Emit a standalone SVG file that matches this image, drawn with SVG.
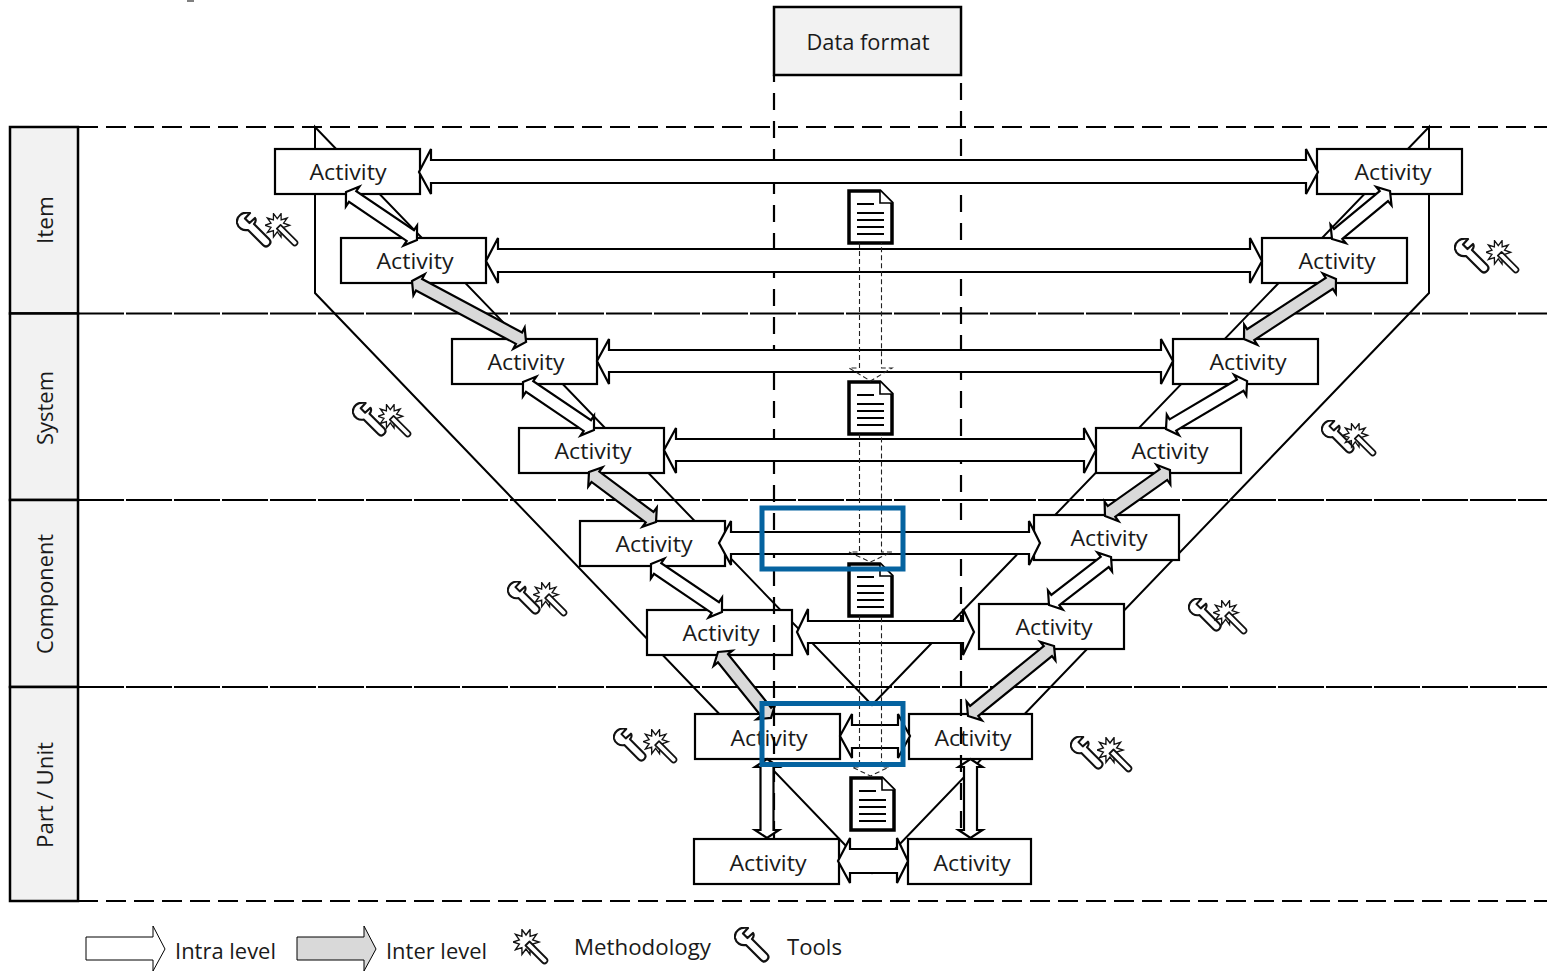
<svg xmlns="http://www.w3.org/2000/svg" width="1547" height="973" viewBox="0 0 1547 973">
<defs>
<style>
text{font-family:"Open Sans","Liberation Sans",sans-serif;font-size:21px;fill:#1a1a1a;text-anchor:middle}
.box{fill:#fff;stroke:#000;stroke-width:2.2}
.lane{fill:#f2f2f2;stroke:#000;stroke-width:2.5}
.lineh{stroke:#000;stroke-width:2.2;fill:none}
.dash1{stroke-dasharray:20 8}
.dash2{stroke-dasharray:46 2}
.dashv{stroke:#000;stroke-width:2.2;fill:none;stroke-dasharray:17 11}
.v{stroke:#000;stroke-width:2;fill:none}
.a{fill:#fff;stroke:#000;stroke-width:2.2;stroke-linejoin:miter}
.g{fill:#d9d9d9;stroke:#000;stroke-width:2.2;stroke-linejoin:miter}
.doc{fill:#fff;stroke:#000;stroke-width:3.5}
.docl{stroke:#000;stroke-width:1.8;fill:none}
.flow{stroke:#222;stroke-width:1.1;fill:none;stroke-dasharray:5 3}
.blue{fill:none;stroke:#0563a0;stroke-width:5}
.ic{fill:#fff;stroke:#111;stroke-width:2.2;stroke-linejoin:round}
.st{fill:#fff;stroke:#111;stroke-width:1.4;stroke-linejoin:miter}
</style>
<symbol id="wrench" viewBox="0 0 36 36"><path class="ic" d="M14 1C6 -1 0 5 1 11C2 16 7 19 12 18L27 33Q30 36 33 33Q36 30 33 27L18 12C20 10 20 7 19 6L13.500 11L9 6.500Z"/></symbol>
<symbol id="wand" viewBox="0 0 36 36"><polygon class="st" points="26,13 19.660,15.160 23.520,20.640 17.110,18.660 17.020,25.360 13,20 8.980,25.360 8.890,18.660 2.480,20.640 6.340,15.160 0,13 6.340,10.840 2.480,5.360 8.890,7.340 8.980,0.640 13,6 17.020,0.640 17.110,7.340 23.520,5.360 19.660,10.840"/><path class="ic" style="stroke-width:1.8" d="M12.500 16.500L16.500 12.500L33.500 29.500Q35.500 31.500 33.500 33.500Q31.500 35.500 29.500 33.500Z"/></symbol>
<g id="docicon"><path class="doc" d="M0 0H31L43 12V52H0Z"/><path class="doc" style="stroke-width:1.600" d="M31 0V12H43"/><path class="docl" d="M8 13H25M8 22H35M8 29H35M8 36H35M8 43H35"/></g>
</defs>
<rect width="1547" height="973" fill="#fff"/>
<rect x="187" y="0" width="7" height="2" fill="#808080"/>

<g id="lanes">
<g id="lane-item"><rect class="lane" x="10" y="127" width="68" height="186.500"/><text transform="translate(53 220) rotate(-90)" textLength="48" lengthAdjust="spacingAndGlyphs">Item</text></g>
<g id="lane-system"><rect class="lane" x="10" y="313.500" width="68" height="186.500"/><text transform="translate(53 408) rotate(-90)" textLength="74" lengthAdjust="spacingAndGlyphs">System</text></g>
<g id="lane-component"><rect class="lane" x="10" y="500" width="68" height="187"/><text transform="translate(53 594) rotate(-90)" textLength="120" lengthAdjust="spacingAndGlyphs">Component</text></g>
<g id="lane-part"><rect class="lane" x="10" y="687" width="68" height="214"/><text transform="translate(53 795) rotate(-90)" textLength="106" lengthAdjust="spacingAndGlyphs">Part / Unit</text></g>
</g>
<g id="separators">
<path class="lineh dash1" d="M78 127H1547M78 901H1547"/>
<path class="lineh dash2" d="M78 313.500H1547M78 500H1547M78 687H1547"/>
</g>
<g id="vee">
<path class="v" d="M315 127V293L872 873L1429 293V127L872 705Z"/>
</g>
<g id="node-data-format"><rect class="lane" x="774" y="7" width="187" height="68"/><text x="868" y="50" textLength="123" lengthAdjust="spacingAndGlyphs">Data format</text></g>

<g id="activities">
<g id="a1"><rect class="box" x="275" y="149" width="145" height="45"/><text x="348" y="180" textLength="77" lengthAdjust="spacingAndGlyphs">Activity</text></g>
<g id="a2"><rect class="box" x="341" y="238" width="145" height="45"/><text x="415" y="269" textLength="77" lengthAdjust="spacingAndGlyphs">Activity</text></g>
<g id="a3"><rect class="box" x="452" y="339" width="145" height="45"/><text x="526" y="370" textLength="77" lengthAdjust="spacingAndGlyphs">Activity</text></g>
<g id="a4"><rect class="box" x="519" y="428" width="145" height="45"/><text x="593" y="459" textLength="77" lengthAdjust="spacingAndGlyphs">Activity</text></g>
<g id="a5"><rect class="box" x="580" y="521" width="145" height="45"/><text x="654" y="552" textLength="77" lengthAdjust="spacingAndGlyphs">Activity</text></g>
<g id="a6"><rect class="box" x="647" y="610" width="145" height="45"/><text x="721" y="641" textLength="77" lengthAdjust="spacingAndGlyphs">Activity</text></g>
<g id="a7"><rect class="box" x="695" y="714" width="145" height="45"/><text x="769" y="746" textLength="77" lengthAdjust="spacingAndGlyphs">Activity</text></g>
<g id="a8"><rect class="box" x="694" y="839" width="145" height="45"/><text x="768" y="871" textLength="77" lengthAdjust="spacingAndGlyphs">Activity</text></g>
<g id="b1"><rect class="box" x="1317" y="149" width="145" height="45"/><text x="1393" y="180" textLength="77" lengthAdjust="spacingAndGlyphs">Activity</text></g>
<g id="b2"><rect class="box" x="1262" y="238" width="145" height="45"/><text x="1337" y="269" textLength="77" lengthAdjust="spacingAndGlyphs">Activity</text></g>
<g id="b3"><rect class="box" x="1173" y="339" width="145" height="45"/><text x="1248" y="370" textLength="77" lengthAdjust="spacingAndGlyphs">Activity</text></g>
<g id="b4"><rect class="box" x="1096" y="428" width="145" height="45"/><text x="1170" y="459" textLength="77" lengthAdjust="spacingAndGlyphs">Activity</text></g>
<g id="b5"><rect class="box" x="1034" y="515" width="145" height="45"/><text x="1109" y="546" textLength="77" lengthAdjust="spacingAndGlyphs">Activity</text></g>
<g id="b6"><rect class="box" x="979" y="604" width="145" height="45"/><text x="1054" y="635" textLength="77" lengthAdjust="spacingAndGlyphs">Activity</text></g>
<g id="b7"><rect class="box" x="909" y="714" width="123" height="45"/><text x="973" y="746" textLength="77" lengthAdjust="spacingAndGlyphs">Activity</text></g>
<g id="b8"><rect class="box" x="908" y="839" width="123" height="45"/><text x="972" y="871" textLength="77" lengthAdjust="spacingAndGlyphs">Activity</text></g>
</g>

<path class="dashv" stroke-dashoffset="10" d="M774 75V838"/>
<path class="dashv" stroke-dashoffset="20" d="M961 75V838"/>

<g id="connectors">
<polygon class="a" points="419,172 431,149 431,160 1306,160 1306,149 1318,172 1306,194 1306,183 431,183 431,194"/>
<polygon class="a" points="486,261 498,238 498,249 1250,249 1250,238 1262,261 1250,283 1250,272 498,272 498,283"/>
<polygon class="a" points="597,361 609,339 609,350 1161,350 1161,339 1173,361 1161,384 1161,372 609,372 609,384"/>
<polygon class="a" points="664,450 676,428 676,439 1084,439 1084,428 1096,450 1084,473 1084,461 676,461 676,473"/>
<polygon class="a" points="719,543 731,521 731,532 1029,532 1029,521 1040,543 1029,565 1029,554 731,554 731,565"/>
<polygon class="a" points="797,632 808,609 808,621 963,621 963,609 974,632 963,655 963,643 808,643 808,655"/>
<polygon class="a" points="840,736 852,714 852,725 898,725 898,714 910,736 898,758 898,748 852,748 852,758"/>
<polygon class="a" points="838,861 850,838 850,849 897,849 897,838 908,861 897,883 897,873 850,873 850,883"/>
<polygon class="a" transform="translate(346 192) rotate(34.100)" points="0,0 8,-12 8,-6.500 77.700,-6.500 77.700,-12 85.700,0 77.700,12 77.700,6.500 8,6.500 8,12"/>
<polygon class="g" transform="translate(412 281) rotate(28.100)" points="0,0 8,-12 8,-6.500 121.300,-6.500 121.300,-12 129.300,0 121.300,12 121.300,6.500 8,6.500 8,12"/>
<polygon class="a" transform="translate(523 382) rotate(34.100)" points="0,0 8,-12 8,-6.500 77.700,-6.500 77.700,-12 85.700,0 77.700,12 77.700,6.500 8,6.500 8,12"/>
<polygon class="g" transform="translate(589 472) rotate(36.700)" points="0,0 8,-12 8,-6.500 75.600,-6.500 75.600,-12 83.600,0 75.600,12 75.600,6.500 8,6.500 8,12"/>
<polygon class="a" transform="translate(651 564) rotate(34.100)" points="0,0 8,-12 8,-6.500 77.700,-6.500 77.700,-12 85.700,0 77.700,12 77.700,6.500 8,6.500 8,12"/>
<polygon class="g" transform="translate(718 652) rotate(51.200)" points="0,0 8,-12 8,-6.500 76.600,-6.500 76.600,-12 84.600,0 76.600,12 76.600,6.500 8,6.500 8,12"/>
<polygon class="a" transform="translate(1332 239) rotate(-39.600)" points="0,0 8,-12 8,-6.500 67.300,-6.500 67.300,-12 75.300,0 67.300,12 67.300,6.500 8,6.500 8,12"/>
<polygon class="g" transform="translate(1244 339) rotate(-33.100)" points="0,0 8,-12 8,-6.500 101.800,-6.500 101.800,-12 109.800,0 101.800,12 101.800,6.500 8,6.500 8,12"/>
<polygon class="a" transform="translate(1166 429) rotate(-30.600)" points="0,0 8,-12 8,-6.500 86.200,-6.500 86.200,-12 94.200,0 86.200,12 86.200,6.500 8,6.500 8,12"/>
<polygon class="g" transform="translate(1105 516) rotate(-35.300)" points="0,0 8,-12 8,-6.500 71.600,-6.500 71.600,-12 79.600,0 71.600,12 71.600,6.500 8,6.500 8,12"/>
<polygon class="a" transform="translate(1049 605) rotate(-37.700)" points="0,0 8,-12 8,-6.500 70.400,-6.500 70.400,-12 78.400,0 70.400,12 70.400,6.500 8,6.500 8,12"/>
<polygon class="g" transform="translate(968 716) rotate(-39.100)" points="0,0 8,-12 8,-6.500 102.900,-6.500 102.900,-12 110.900,0 102.900,12 102.900,6.500 8,6.500 8,12"/>
<polygon class="a" points="767,759 779,767 773.500,767 773.500,830 779,830 767,838 755,830 760.500,830 760.500,767 755,767"/>
<polygon class="a" points="970.500,759 982.500,767 977,767 977,830 982.500,830 970.500,838 958.500,830 964,830 964,767 958.500,767"/>
</g>

<g id="documents">
<use href="#docicon" x="849" y="191"/>
<use href="#docicon" x="849" y="382"/>
<use href="#docicon" x="849" y="564"/>
<use href="#docicon" x="851" y="778"/>
</g>
<g id="doc-flows">
<path class="flow" d="M859.500 243V368H849L870.500 381L892 368H881.500V243"/>
<path class="flow" d="M859.500 434V552H849L870.500 562L892 552H881.500V434"/>
<path class="flow" d="M859.500 616V767H852L870.500 776L889 767H881.500V616"/>
</g>

<g id="icons">
<use href="#wrench" x="236" y="212" width="36" height="36"/><use href="#wand" x="265" y="213" width="34" height="34"/>
<use href="#wrench" x="352" y="402" width="35" height="35"/><use href="#wand" x="378" y="404" width="34" height="34"/>
<use href="#wrench" x="1454" y="238" width="36" height="36"/><use href="#wand" x="1486" y="240" width="34" height="34"/>
<use href="#wrench" x="1321" y="420" width="34" height="34"/><use href="#wand" x="1343" y="423" width="34" height="34"/>
<use href="#wrench" x="507" y="581" width="34" height="34"/><use href="#wand" x="533" y="582" width="35" height="35"/>
<use href="#wrench" x="1188" y="598" width="34" height="34"/><use href="#wand" x="1213" y="600" width="35" height="35"/>
<use href="#wrench" x="613" y="728" width="34" height="34"/><use href="#wand" x="643" y="729" width="35" height="35"/>
<use href="#wrench" x="1070" y="736" width="34" height="34"/><use href="#wand" x="1097" y="737" width="36" height="36"/>
</g>

<g id="highlights">
<rect class="blue" x="762" y="508" width="141" height="61"/>
<rect class="blue" x="762" y="703.500" width="141" height="61"/>
</g>

<g id="legend">
<polygon fill="#fff" stroke="#000" stroke-width="1" points="86,937 153,937 153,926 165,949 153,971 153,960 86,960"/>
<text x="225.500" y="959" textLength="101" lengthAdjust="spacingAndGlyphs">Intra level</text>
<polygon fill="#d9d9d9" stroke="#000" stroke-width="1" points="297,937 364,937 364,926 376,949 364,971 364,960 297,960"/>
<text x="436.500" y="959" textLength="101" lengthAdjust="spacingAndGlyphs">Inter level</text>
<use href="#wand" x="513" y="929" width="36" height="36"/>
<text x="642.500" y="955" textLength="137" lengthAdjust="spacingAndGlyphs">Methodology</text>
<use href="#wrench" x="734" y="927" width="36" height="36"/>
<text x="814.500" y="955" textLength="55" lengthAdjust="spacingAndGlyphs">Tools</text>
</g>
</svg>
